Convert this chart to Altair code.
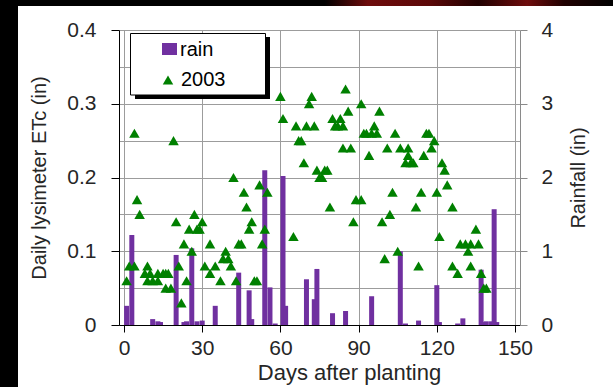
import altair as alt
import pandas as pd

# Rainfall events (day after planting, inches)
rain_days = [1, 3, 11, 13, 14, 20, 23, 24, 26, 28, 30, 35, 44, 48, 49, 54, 56, 58,
             61, 62, 70, 73, 74, 80, 85, 95, 106, 108, 113, 120, 121, 128, 130,
             137, 138, 139, 141, 142, 143]
rain_in = [0.26, 1.22, 0.08, 0.05, 0.04, 0.95, 0.04, 0.05, 1.04, 0.05, 0.06, 0.26,
           0.71, 0.47, 0.08, 2.10, 0.51, 0.02, 2.02, 0.26, 0.62, 0.35, 0.76, 0.16,
           0.19, 0.39, 1.00, 0.02, 0.06, 0.54, 0.04, 0.02, 0.09, 0.75, 0.04, 0.05,
           0.05, 1.57, 0.04]

# Daily lysimeter ETc, 2003 season (day after planting, inches)
et_days = [1, 2, 4, 4, 5, 6, 8, 9, 9, 10, 11, 13, 13, 15, 16, 16, 17, 18, 19, 20,
           21, 22, 23, 24, 25, 26, 27, 28, 29, 30, 31, 33, 33, 35, 37, 38, 39, 40,
           41, 42, 43, 44, 45, 46, 47, 48, 49, 50, 51, 52, 53, 54, 55, 60, 61, 65,
           66, 67, 68, 69, 70, 71, 72, 73, 74, 75, 76, 77, 78, 79, 80, 81, 82, 83,
           84, 84, 85, 86, 87, 88, 89, 91, 91, 92, 93, 94, 95, 96, 97, 98, 99, 100,
           101, 102, 103, 104, 105, 106, 108, 109, 109, 110, 111, 112, 113, 114,
           115, 116, 117, 118, 119, 120, 121, 122, 123, 124, 126, 126, 128, 129,
           131, 132, 133, 133, 135, 136, 137, 138, 139]
et_in = [0.06, 0.08, 0.26, 0.08, 0.17, 0.15, 0.07, 0.08, 0.06, 0.07, 0.06, 0.07,
         0.06, 0.07, 0.05, 0.07, 0.07, 0.05, 0.25, 0.14, 0.08, 0.03, 0.11, 0.06,
         0.13, 0.10, 0.15, 0.13, 0.13, 0.14, 0.08, 0.07, 0.11, 0.08, 0.06, 0.09,
         0.10, 0.09, 0.08, 0.20, 0.06, 0.11, 0.11, 0.18, 0.16, 0.13, 0.14, 0.06,
         0.06, 0.19, 0.11, 0.13, 0.18, 0.31, 0.28, 0.12, 0.27, 0.25, 0.25, 0.22,
         0.27, 0.30, 0.31, 0.27, 0.21, 0.20, 0.20, 0.21, 0.21, 0.16, 0.28, 0.27,
         0.27, 0.28, 0.27, 0.24, 0.32, 0.29, 0.24, 0.14, 0.17, 0.17, 0.30, 0.26,
         0.26, 0.23, 0.26, 0.27, 0.26, 0.29, 0.14, 0.09, 0.24, 0.15, 0.18, 0.26,
         0.10, 0.24, 0.22, 0.24, 0.23, 0.22, 0.22, 0.16, 0.08, 0.18, 0.23, 0.26,
         0.26, 0.24, 0.25, 0.18, 0.12, 0.22, 0.21, 0.19, 0.16, 0.08, 0.07, 0.11,
         0.11, 0.10, 0.11, 0.08, 0.13, 0.11, 0.07, 0.05, 0.05]

day_ticks = [0, 30, 60, 90, 120, 150]
rain_ticks = [0, 1, 2, 3, 4]
et_grid = [0, 0.05, 0.1, 0.15, 0.2, 0.25, 0.3, 0.35, 0.4]

assert len(rain_days) == len(rain_in)
assert len(et_days) == len(et_in)

rain_df = pd.DataFrame({"day": rain_days, "rain": rain_in})
et_df = pd.DataFrame({"day": et_days, "et": et_in})
one = pd.DataFrame({"k": [0]})

FONT = "Liberation Sans"
TXT = "#262626"
GRID = "#9c9c9c"
PURPLE = "#7030A0"
GREEN = "#008000"

W, H = 401, 295

x_scale = alt.Scale(domain=[0, 150], nice=False, zero=False)
x_axis = alt.Axis(
    values=day_ticks, grid=True, gridColor=GRID, gridWidth=1,
    domainColor="black", tickColor="black", tickSize=7, labelPadding=5,
    labelFont=FONT, labelFontSize=21, labelColor=TXT,
    title="Days after planting", titleFont=FONT, titleFontSize=22,
    titleFontWeight="normal", titleColor=TXT, titleX=230, titleY=47,
    titleBaseline="middle",
)

bars = alt.Chart(rain_df).mark_bar(size=5, color=PURPLE).encode(
    x=alt.X("day:Q", scale=x_scale, axis=x_axis),
    y=alt.Y(
        "rain:Q",
        scale=alt.Scale(domain=[0, 4], nice=False),
        axis=alt.Axis(
            orient="right", values=rain_ticks, grid=False,
            domainColor="#8a8a8a", tickColor="#8a8a8a", tickSize=7,
            labelPadding=14, labelFont=FONT, labelFontSize=21, labelColor=TXT,
            title="Rainfall  (in)", titleFont=FONT, titleFontSize=20,
            titleFontWeight="normal", titleColor=TXT, titleAngle=270,
            titleX=58, titleY=H / 2, titleBaseline="middle",
        ),
    ),
)

points = alt.Chart(et_df).mark_point(
    shape="triangle-up", filled=True, size=110, color=GREEN, opacity=1
).encode(
    x=alt.X("day:Q", scale=x_scale, axis=x_axis),
    y=alt.Y(
        "et:Q",
        scale=alt.Scale(domain=[0, 0.4], nice=False),
        axis=alt.Axis(
            orient="left", values=et_grid, grid=True, gridColor=GRID,
            domainColor="black", tickColor="black", tickSize=8,
            tickOpacity={"condition": {"test": "round(datum.value*100) % 10 == 0", "value": 1}, "value": 0},
            labelExpr="round(datum.value*100) % 10 == 0 ? format(datum.value, '~g') : ''",
            labelPadding=15, labelFont=FONT, labelFontSize=21, labelColor=TXT,
            title="Daily lysimeter ETc  (in)", titleFont=FONT, titleFontSize=20,
            titleFontWeight="normal", titleColor=TXT, titleAngle=270,
            titleX=-80, titleY=H / 2, titleBaseline="middle",
        ),
    ),
)

# Dark slide frame around the white chart panel
left_band = alt.Chart(one).mark_rect(color="black").encode(
    x=alt.value(-119), x2=alt.value(-101), y=alt.value(-30), y2=alt.value(357)
)
top_band = alt.Chart(one).mark_rect(
    color=alt.LinearGradient(
        gradient="linear", x1=0, x2=1, y1=0, y2=0,
        stops=[
            alt.GradientStop(offset=0, color="black"),
            alt.GradientStop(offset=0.53, color="black"),
            alt.GradientStop(offset=0.6, color="#6e0c0c"),
            alt.GradientStop(offset=0.7, color="#5c0808"),
            alt.GradientStop(offset=0.78, color="#200000"),
            alt.GradientStop(offset=0.86, color="#6e0c0c"),
            alt.GradientStop(offset=0.92, color="#200000"),
            alt.GradientStop(offset=1, color="black"),
        ],
    )
).encode(x=alt.value(-119), x2=alt.value(494), y=alt.value(-30), y2=alt.value(-24))

# Legend box with drop shadow
shadow = alt.Chart(one).mark_rect(color="black").encode(
    x=alt.value(16), x2=alt.value(151), y=alt.value(7), y2=alt.value(69)
)
box = alt.Chart(one).mark_rect(fill="white", stroke="black", strokeWidth=1).encode(
    x=alt.value(11.5), x2=alt.value(146.5), y=alt.value(3.5), y2=alt.value(65)
)
key_rain = alt.Chart(one).mark_rect(color=PURPLE).encode(
    x=alt.value(43), x2=alt.value(58), y=alt.value(13), y2=alt.value(25)
)
key_et = alt.Chart(one).mark_point(
    shape="triangle-up", filled=True, size=110, color=GREEN, opacity=1
).encode(x=alt.value(49), y=alt.value(50))
lbl_rain = alt.Chart(one).mark_text(
    align="left", baseline="middle", font=FONT, fontSize=20, color="black"
).encode(x=alt.value(61), y=alt.value(19.5), text=alt.value("rain"))
lbl_et = alt.Chart(one).mark_text(
    align="left", baseline="middle", font=FONT, fontSize=20, color="black"
).encode(x=alt.value(62), y=alt.value(49.5), text=alt.value("2003"))

chart = alt.layer(
    bars, points, left_band, top_band, shadow, box, key_rain, key_et, lbl_rain, lbl_et
).resolve_scale(y="independent").properties(
    width=W, height=H,
    autosize=alt.AutoSizeParams(type="none"),
    padding={"left": 119, "top": 30, "right": 93, "bottom": 62},
    background="white",
).configure_view(stroke=None)

chart.save("out.html", embed_options={"renderer": "svg", "actions": False})
